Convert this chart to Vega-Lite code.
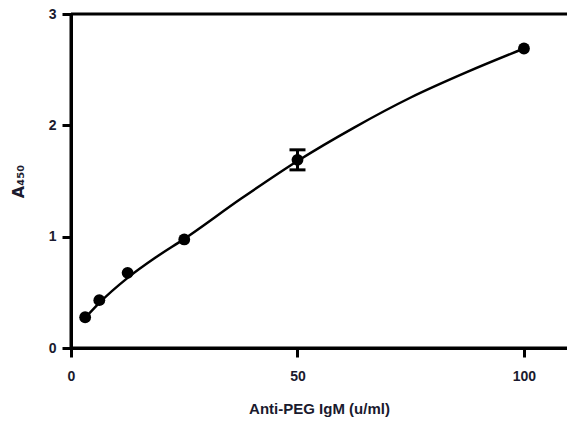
{
  "$schema": "https://vega.github.io/schema/vega-lite/v6.json",
  "width": 496,
  "height": 334,
  "autosize": {"type": "none"},
  "padding": {"left": 71, "top": 14, "right": 0, "bottom": 77},
  "background": "white",
  "config": {
    "view": {"stroke": null},
    "axis": {"domainColor": "black", "domainWidth": 3, "tickColor": "black", "tickWidth": 3, "tickSize": 9, "grid": false},
    "axisX": {"domainColor": "black", "domainWidth": 3, "tickColor": "black", "tickWidth": 3, "tickSize": 9},
    "axisY": {"domainColor": "black", "domainWidth": 3, "tickColor": "black", "tickWidth": 3, "tickSize": 9}
  },
  "datasets": {
    "points": [
      {"conc": 3.125, "a450": 0.276, "lo": 0.276, "hi": 0.276},
      {"conc": 6.25, "a450": 0.43, "lo": 0.43, "hi": 0.43},
      {"conc": 12.5, "a450": 0.675, "lo": 0.675, "hi": 0.675},
      {"conc": 25, "a450": 0.975, "lo": 0.975, "hi": 0.975},
      {"conc": 50, "a450": 1.69, "lo": 1.6, "hi": 1.78},
      {"conc": 100, "a450": 2.69, "lo": 2.69, "hi": 2.69}
    ],
    "curve": [
      {"conc": 3.125, "fit": 0.27},
      {"conc": 6.25, "fit": 0.405},
      {"conc": 12.5, "fit": 0.63},
      {"conc": 18.75, "fit": 0.815},
      {"conc": 25, "fit": 0.98},
      {"conc": 37.5, "fit": 1.34},
      {"conc": 50, "fit": 1.68},
      {"conc": 62.5, "fit": 1.98},
      {"conc": 75, "fit": 2.25},
      {"conc": 87.5, "fit": 2.48},
      {"conc": 100, "fit": 2.69}
    ],
    "frame": [{"top": 3, "zero": 0}]
  },
  "layer": [
    {
      "data": {"name": "curve"},
      "mark": {"type": "line", "color": "black", "strokeWidth": 2.5, "interpolate": "monotone", "clip": false},
      "encoding": {
        "x": {
          "field": "conc", "type": "quantitative",
          "scale": {"domain": [0, 109.5], "nice": false, "zero": false},
          "axis": {
            "values": [0, 50, 100], "format": "d", "title": "Anti-PEG IgM (u/ml)",
            "labelPadding": 12, "titlePadding": 18, "labelFlush": false,
            "labelFont": "Liberation Sans", "labelFontWeight": "bold", "labelFontSize": 14, "labelColor": "#1a1a2e",
            "titleFont": "Liberation Sans", "titleFontWeight": "bold", "titleFontSize": 15, "titleColor": "#1a1a2e",
            "domainColor": "black", "domainWidth": 3, "tickColor": "black", "tickWidth": 3, "tickSize": 9, "grid": false
          }
        },
        "y": {
          "field": "fit", "type": "quantitative",
          "scale": {"domain": [0, 3], "nice": false},
          "axis": {
            "values": [0, 1, 2, 3], "format": "d", "title": "A₄₅₀",
            "labelPadding": 6, "titlePadding": 22, "labelFlush": false,
            "labelFont": "Liberation Sans", "labelFontWeight": "bold", "labelFontSize": 14, "labelColor": "#1a1a2e",
            "titleFont": "DejaVu Sans", "titleFontWeight": "bold", "titleFontSize": 16, "titleColor": "#1a1a2e",
            "domainColor": "black", "domainWidth": 3, "tickColor": "black", "tickWidth": 3, "tickSize": 9, "grid": false
          }
        }
      }
    },
    {
      "data": {"name": "points"},
      "mark": {"type": "rule", "color": "black", "strokeWidth": 3},
      "encoding": {
        "x": {"field": "conc", "type": "quantitative"},
        "y": {"field": "lo", "type": "quantitative"},
        "y2": {"field": "hi"}
      }
    },
    {
      "data": {"name": "points"},
      "mark": {"type": "tick", "color": "black", "opacity": 1, "orient": "horizontal", "size": 16, "thickness": 3},
      "transform": [{"filter": "datum.hi > datum.lo"}],
      "encoding": {
        "x": {"field": "conc", "type": "quantitative"},
        "y": {"field": "hi", "type": "quantitative"}
      }
    },
    {
      "data": {"name": "points"},
      "mark": {"type": "tick", "color": "black", "opacity": 1, "orient": "horizontal", "size": 16, "thickness": 3},
      "transform": [{"filter": "datum.hi > datum.lo"}],
      "encoding": {
        "x": {"field": "conc", "type": "quantitative"},
        "y": {"field": "lo", "type": "quantitative"}
      }
    },
    {
      "data": {"name": "points"},
      "mark": {"type": "point", "filled": true, "color": "black", "opacity": 1, "size": 140, "shape": "circle"},
      "encoding": {
        "x": {"field": "conc", "type": "quantitative"},
        "y": {"field": "a450", "type": "quantitative"}
      }
    },
    {
      "data": {"name": "frame"},
      "mark": {"type": "rule", "color": "black", "strokeWidth": 3, "clip": false},
      "encoding": {"y": {"field": "top", "type": "quantitative"}}
    },
    {
      "data": {"name": "frame"},
      "mark": {"type": "rule", "color": "black", "strokeWidth": 3, "clip": false},
      "encoding": {"y": {"field": "zero", "type": "quantitative"}}
    },
    {
      "data": {"name": "frame"},
      "mark": {"type": "rule", "color": "black", "strokeWidth": 3, "clip": false},
      "encoding": {"x": {"field": "zero", "type": "quantitative"}}
    }
  ]
}
